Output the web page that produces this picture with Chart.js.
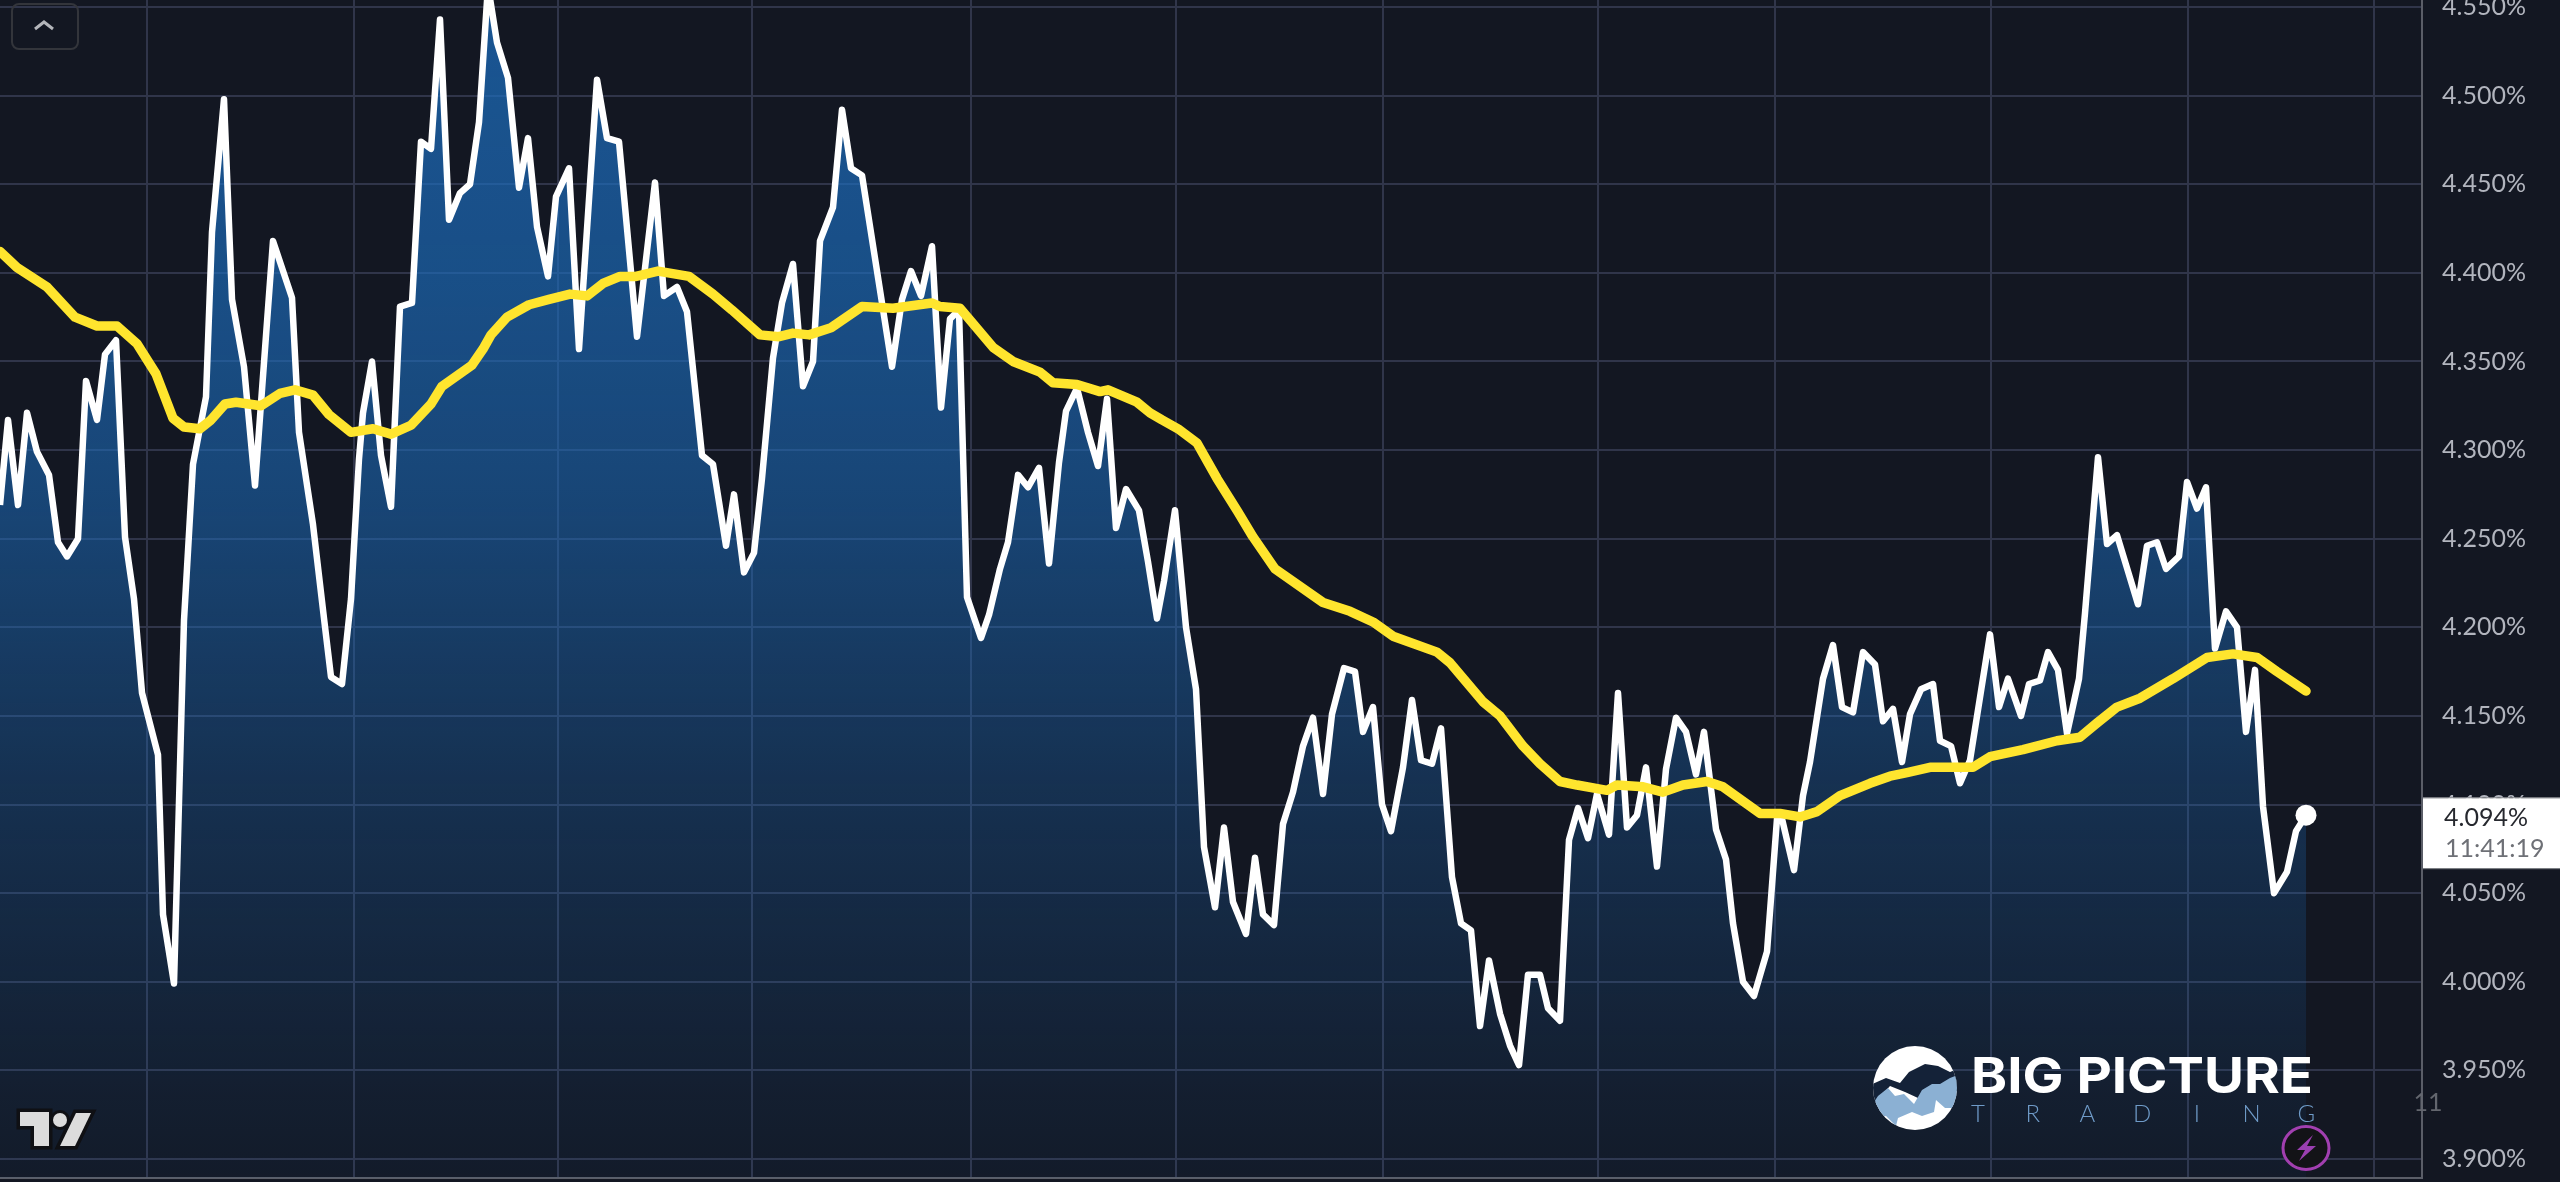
<!DOCTYPE html>
<html>
<head>
<meta charset="utf-8">
<title>Yield chart</title>
<script src="https://cdn.jsdelivr.net/npm/chart.js@4"></script>
<style>
  html, body { margin: 0; padding: 0; background: #131722; overflow: hidden; }
  canvas { display: block; }
</style>
</head>
<body>
<canvas id="yieldChart" width="2560" height="1182"></canvas>
<script>
// time axis is in hours from the left edge of the window
const lineHours = [
  0, 0.8, 1.8, 2.7, 3.7, 4.9, 5.8, 6.7, 7.8, 8.6,
  9.7, 10.5, 11.6, 12.5, 13.4, 14.2, 15.8, 16.3, 17.4, 18.4,
  19.3, 20.6, 21.2, 22.4, 23.2, 24.4, 25.5, 26.2, 27.3, 29.2,
  29.9, 31.3, 32.4, 33.1, 34.2, 35.1, 35.9, 36.3, 37.2, 38.1,
  39.1, 40.0, 41.2, 42.1, 43.1, 44.0, 44.9, 46.0, 47.0, 47.9,
  48.8, 49.7, 50.8, 51.9, 52.8, 53.7, 54.8, 55.6, 56.9, 57.9,
  59.7, 60.7, 61.9, 63.7, 65.5, 66.4, 67.7, 68.7, 70.2, 71.3,
  72.6, 73.4, 74.4, 75.4, 76.2, 77.3, 78.2, 79.3, 80.3, 81.3,
  82.0, 83.3, 84.2, 85.1, 86.2, 89.2, 90.2, 91.1, 92.1, 93.2,
  94.1, 95.0, 95.9, 96.7, 98.1, 98.9, 100.0, 100.8, 101.8, 102.8,
  103.9, 104.9, 105.9, 106.6, 107.7, 108.8, 109.8, 110.7, 111.6, 112.6,
  113.9, 114.8, 115.7, 116.4, 117.5, 118.6, 119.6, 120.4, 121.5, 122.4,
  123.3, 124.6, 125.5, 126.3, 127.4, 128.3, 129.3, 130.3, 131.3, 132.3,
  133.2, 134.4, 135.5, 136.3, 137.3, 138.2, 139.1, 140.3, 141.2, 142.1,
  143.2, 144.1, 145.2, 146.1, 147.1, 148.0, 148.9, 150.0, 151.0, 151.9,
  152.8, 154.0, 154.8, 156.0, 156.9, 157.8, 158.8, 159.7, 160.9, 161.8,
  162.7, 163.7, 164.6, 165.7, 166.6, 167.6, 168.6, 169.6, 170.4, 171.6,
  172.6, 173.3, 174.3, 175.4, 176.7, 177.7, 178.2, 179.4, 180.3, 181.0,
  182.3, 183.3, 184.2, 185.3, 186.3, 187.5, 188.3, 189.3, 190.2, 191.0,
  192.1, 193.3, 194.0, 195.1, 196.0, 197.0, 199.0, 199.9, 200.8, 202.1,
  202.9, 204.0, 204.8, 205.8, 206.7, 207.9, 208.5, 209.8, 210.7, 211.7,
  213.8, 214.7, 215.7, 216.6, 217.9, 218.7, 219.7, 220.6, 221.5, 222.6,
  223.7, 224.6, 225.5, 226.3, 227.4, 228.7, 229.6, 230.6
];
const lineYields = [
  4.269, 4.317, 4.269, 4.321, 4.299, 4.286, 4.248, 4.240, 4.250, 4.339,
  4.317, 4.354, 4.362, 4.251, 4.216, 4.163, 4.128, 4.038, 3.999, 4.204,
  4.292, 4.330, 4.423, 4.498, 4.385, 4.347, 4.280, 4.334, 4.418, 4.386,
  4.310, 4.258, 4.205, 4.172, 4.168, 4.216, 4.295, 4.321, 4.350, 4.297,
  4.268, 4.381, 4.383, 4.474, 4.470, 4.543, 4.430, 4.445, 4.450, 4.485,
  4.562, 4.530, 4.510, 4.448, 4.476, 4.426, 4.398, 4.443, 4.459, 4.357,
  4.509, 4.476, 4.474, 4.364, 4.451, 4.387, 4.392, 4.378, 4.297, 4.292,
  4.246, 4.275, 4.231, 4.242, 4.284, 4.352, 4.383, 4.405, 4.336, 4.350,
  4.418, 4.437, 4.492, 4.459, 4.455, 4.347, 4.385, 4.401, 4.387, 4.415,
  4.324, 4.374, 4.379, 4.217, 4.194, 4.207, 4.233, 4.248, 4.286, 4.279,
  4.290, 4.236, 4.293, 4.322, 4.335, 4.310, 4.291, 4.329, 4.256, 4.278,
  4.266, 4.237, 4.205, 4.226, 4.266, 4.200, 4.165, 4.076, 4.042, 4.087,
  4.045, 4.027, 4.070, 4.038, 4.032, 4.089, 4.107, 4.133, 4.149, 4.106,
  4.151, 4.177, 4.175, 4.141, 4.155, 4.100, 4.085, 4.121, 4.159, 4.125,
  4.123, 4.143, 4.059, 4.033, 4.029, 3.975, 4.012, 3.982, 3.964, 3.953,
  4.004, 4.004, 3.985, 3.978, 4.080, 4.098, 4.081, 4.106, 4.083, 4.163,
  4.087, 4.094, 4.121, 4.065, 4.120, 4.149, 4.141, 4.117, 4.141, 4.086,
  4.069, 4.033, 4.000, 3.992, 4.017, 4.092, 4.092, 4.063, 4.105, 4.124,
  4.171, 4.190, 4.155, 4.152, 4.186, 4.179, 4.147, 4.154, 4.124, 4.151,
  4.165, 4.168, 4.136, 4.133, 4.112, 4.125, 4.196, 4.155, 4.171, 4.150,
  4.168, 4.170, 4.186, 4.176, 4.140, 4.171, 4.208, 4.296, 4.247, 4.252,
  4.213, 4.246, 4.248, 4.233, 4.240, 4.282, 4.267, 4.279, 4.188, 4.209,
  4.200, 4.141, 4.176, 4.099, 4.050, 4.062, 4.085, 4.094
];

const avgHours = [
  0, 1.7, 4.7, 7.5, 9.7, 11.7, 13.7, 15.6, 17.3, 18.4,
  20.0, 21.1, 22.5, 23.6, 26.1, 28.0, 29.5, 31.3, 32.9, 35.1,
  37.3, 39.1, 41.1, 43.1, 44.2, 47.2, 48.3, 49.1, 50.7, 52.9,
  54.9, 57.0, 58.7, 60.3, 62.0, 63.6, 65.8, 68.9, 71.3, 73.2,
  76.0, 77.9, 79.3, 80.9, 83.1, 86.2, 89.3, 93.2, 94.0, 96.0,
  99.3, 101.3, 104.0, 105.3, 107.7, 110.0, 110.8, 113.7, 115.0, 116.2,
  117.8, 119.7, 121.7, 123.8, 125.3, 127.5, 132.3, 135.0, 137.3, 139.3,
  143.7, 145.0, 148.3, 150.0, 152.3, 154.0, 156.0, 157.7, 160.7, 161.7,
  164.3, 166.3, 168.3, 170.7, 172.3, 176.0, 178.0, 180.0, 181.7, 184.0,
  187.0, 189.0, 190.7, 193.0, 196.0, 197.3, 199.0, 202.3, 205.7, 208.0,
  209.7, 211.7, 214.0, 217.3, 220.7, 223.3, 225.7, 227.7, 230.6
];
const avgYields = [
  4.412, 4.403, 4.392, 4.375, 4.370, 4.370, 4.360, 4.343, 4.318, 4.313,
  4.312, 4.317, 4.326, 4.327, 4.325, 4.332, 4.334, 4.331, 4.320, 4.310,
  4.312, 4.309, 4.314, 4.326, 4.336, 4.348, 4.357, 4.365, 4.375, 4.382,
  4.385, 4.388, 4.387, 4.394, 4.398, 4.398, 4.401, 4.398, 4.388, 4.379,
  4.365, 4.364, 4.366, 4.365, 4.369, 4.381, 4.380, 4.383, 4.381, 4.380,
  4.358, 4.350, 4.344, 4.338, 4.337, 4.333, 4.334, 4.327, 4.321, 4.317,
  4.312, 4.304, 4.284, 4.265, 4.251, 4.233, 4.214, 4.209, 4.203, 4.195,
  4.186, 4.180, 4.158, 4.150, 4.133, 4.123, 4.113, 4.111, 4.108, 4.111,
  4.110, 4.107, 4.111, 4.113, 4.110, 4.095, 4.095, 4.093, 4.096, 4.105,
  4.112, 4.116, 4.118, 4.121, 4.121, 4.121, 4.127, 4.131, 4.136, 4.138,
  4.146, 4.155, 4.160, 4.171, 4.183, 4.185, 4.183, 4.175, 4.164
];

const yTickValues = [
  4.55, 4.5, 4.45, 4.4, 4.35, 4.3, 4.25, 4.2, 4.15, 4.1, 4.05, 4.0, 3.95, 3.9
];
const timeTicks = [14.7, 35.4, 55.8, 75.2, 97.1, 117.6, 138.3, 159.8, 177.5, 199.1, 218.8, 237.4];

const lastYieldLabel = "4.094%";
const countdownLabel = "11:41:19";
const strayTimeLabel = "11";

const gridColor = "#30354a";
const axisColor = "#5b5e68";
const labelFont = "Lato, 'Open Sans', sans-serif";

const polygon = (ctx, pts) => {
  ctx.beginPath();
  pts.forEach((p, i) => (i ? ctx.lineTo(p[0], p[1]) : ctx.moveTo(p[0], p[1])));
  ctx.closePath();
};

const drawCollapseButton = (ctx) => {
  ctx.strokeStyle = "#33353b";
  ctx.lineWidth = 2;
  ctx.beginPath();
  ctx.roundRect(12, 4, 66, 45, 7);
  ctx.stroke();
  ctx.strokeStyle = "#b4b6bb";
  ctx.lineWidth = 3;
  ctx.beginPath();
  ctx.moveTo(35, 29);
  ctx.lineTo(44, 22);
  ctx.lineTo(53, 29);
  ctx.stroke();
};

const drawTvLogo = (ctx) => {
  const shapes = [
    [[20, 1112], [49, 1112], [49, 1146], [34, 1146], [34, 1126], [20, 1126]],
    [[76, 1113], [91, 1113], [75, 1146], [60, 1146]],
  ];
  ctx.lineJoin = "miter";
  shapes.forEach((s) => {
    polygon(ctx, s);
    ctx.strokeStyle = "#0f1014";
    ctx.lineWidth = 7;
    ctx.stroke();
  });
  ctx.fillStyle = "#0f1014";
  ctx.beginPath();
  ctx.arc(60, 1120, 10, 0, Math.PI * 2);
  ctx.fill();
  shapes.forEach((s) => {
    polygon(ctx, s);
    ctx.fillStyle = "#dcdcdc";
    ctx.fill();
  });
  ctx.beginPath();
  ctx.arc(60, 1120, 7, 0, Math.PI * 2);
  ctx.fill();
};

const drawBrandLogo = (ctx) => {
  ctx.save();
  ctx.beginPath();
  ctx.arc(1915, 1088, 42, 0, Math.PI * 2);
  ctx.fillStyle = "#ffffff";
  ctx.fill();
  ctx.clip();
  // dark valley band under the white dome
  polygon(ctx, [
    [1870, 1085], [1886, 1078], [1900, 1083], [1909, 1072], [1925, 1064], [1938, 1066], [1950, 1072],
    [1960, 1068], [1960, 1092], [1935, 1085], [1918, 1098], [1905, 1092], [1890, 1086], [1872, 1106],
  ]);
  ctx.fillStyle = "#142238";
  ctx.fill();
  // blue ridges
  polygon(ctx, [
    [1870, 1108], [1878, 1096], [1888, 1088], [1895, 1096], [1904, 1094], [1914, 1104], [1922, 1090],
    [1932, 1084], [1940, 1084], [1950, 1078], [1960, 1074], [1960, 1108], [1945, 1108], [1936, 1100],
    [1934, 1112], [1922, 1116], [1912, 1112], [1898, 1118], [1896, 1126], [1886, 1116], [1870, 1118],
  ]);
  ctx.fillStyle = "#8bb0d3";
  ctx.fill();
  ctx.restore();

  ctx.textAlign = "left";
  ctx.textBaseline = "alphabetic";
  ctx.fillStyle = "#ffffff";
  ctx.font = "bold 50px Inter, Lato, sans-serif";
  // stretch the wordmark to the logo's width
  const wordWidth = ctx.measureText("BIG PICTURE").width;
  ctx.save();
  ctx.translate(1971, 1093);
  ctx.scale(342 / wordWidth, 1);
  ctx.fillText("BIG PICTURE", 0, 0);
  ctx.restore();

  ctx.fillStyle = "#6f9bc8";
  ctx.font = "300 24px Lato, sans-serif";
  ctx.textAlign = "center";
  "TRADING".split("").forEach((letter, i) => {
    ctx.fillText(letter, 1978 + i * 54.7, 1122);
  });
};

const drawBoltBadge = (ctx) => {
  ctx.beginPath();
  ctx.ellipse(2306, 1148, 23, 21.5, 0, 0, Math.PI * 2);
  ctx.fillStyle = "#131317";
  ctx.fill();
  ctx.strokeStyle = "#a23fb0";
  ctx.lineWidth = 3;
  ctx.stroke();
  polygon(ctx, [
    [2313, 1135], [2297, 1150], [2305, 1150], [2299, 1161], [2316, 1146], [2307, 1146],
  ]);
  ctx.fillStyle = "#9a3fb0";
  ctx.fill();
};

const overlayPlugin = {
  id: "overlay",
  afterDraw(chart) {
    const ctx = chart.ctx;
    const yScale = chart.scales.y;
    const xScale = chart.scales.x;
    const lastY = yScale.getPixelForValue(lineYields[lineYields.length - 1]);

    ctx.save();
    drawCollapseButton(ctx);
    drawTvLogo(ctx);
    drawBrandLogo(ctx);
    drawBoltBadge(ctx);

    // last value tag on the price axis
    const left = xScale.right + 1;
    ctx.fillStyle = "#ffffff";
    ctx.fillRect(left, lastY - 17, 2560 - left, 70);
    ctx.fillStyle = "#8b8d92";
    ctx.fillRect(left, lastY - 18, 2560 - left, 1);
    ctx.fillRect(left, lastY + 53, 2560 - left, 1);
    ctx.textAlign = "left";
    ctx.textBaseline = "middle";
    ctx.font = "25px " + labelFont;
    ctx.fillStyle = "#26282e";
    ctx.fillText(lastYieldLabel, 2444, lastY + 3);
    ctx.fillStyle = "#6e7076";
    ctx.fillText(countdownLabel, 2445, lastY + 34);

    ctx.fillStyle = "#63666e";
    ctx.textAlign = "center";
    ctx.fillText(strayTimeLabel, 2428, 1103);
    ctx.restore();
  },
};

const fillGradient = (context) => {
  const { ctx, chartArea } = context.chart;
  if (!chartArea) return "rgba(29,110,191,0.5)";
  const g = ctx.createLinearGradient(0, chartArea.top, 0, chartArea.bottom);
  g.addColorStop(0, "rgba(29,110,191,0.72)");
  g.addColorStop(0.25, "rgba(29,110,191,0.64)");
  g.addColorStop(0.42, "rgba(29,110,191,0.54)");
  g.addColorStop(0.68, "rgba(29,110,191,0.29)");
  g.addColorStop(0.93, "rgba(29,110,191,0.09)");
  g.addColorStop(1, "rgba(29,110,191,0.05)");
  return g;
};

const toPoints = (hours, values) => hours.map((h, i) => ({ x: h, y: values[i] }));

new Chart(document.getElementById("yieldChart").getContext("2d"), {
  type: "line",
  data: {
    datasets: [
      {
        label: "Moving average",
        data: toPoints(avgHours, avgYields),
        borderColor: "#ffe52e",
        borderWidth: 9.5,
        borderJoinStyle: "round",
        borderCapStyle: "round",
        pointRadius: 0,
        tension: 0,
        fill: false,
        order: 0,
      },
      {
        label: "Yield",
        data: toPoints(lineHours, lineYields),
        borderColor: "#ffffff",
        borderWidth: 6.5,
        borderJoinStyle: "round",
        pointRadius: (c) => (c.dataIndex === lineHours.length - 1 ? 10.5 : 0),
        pointBackgroundColor: "#ffffff",
        pointBorderWidth: 0,
        tension: 0,
        fill: "start",
        backgroundColor: fillGradient,
        order: 1,
      },
    ],
  },
  options: {
    responsive: false,
    devicePixelRatio: 1,
    animation: false,
    parsing: { xAxisKey: "x", yAxisKey: "y" },
    layout: { padding: 0, autoPadding: false },
    plugins: { legend: { display: false }, tooltip: { enabled: false }, title: { display: false } },
    scales: {
      x: {
        type: "linear",
        min: 0,
        max: 242.2,
        afterBuildTicks: (scale) => {
          scale.ticks = timeTicks.map((v) => ({ value: v }));
        },
        afterFit: (scale) => {
          scale.height = 4;
          scale.paddingLeft = 0;
          scale.paddingRight = 0;
        },
        ticks: { display: false },
        grid: { color: gridColor, lineWidth: 2, drawTicks: false },
        border: { color: axisColor, width: 2 },
      },
      y: {
        type: "linear",
        position: "right",
        min: 3.88928,
        max: 4.55395,
        afterBuildTicks: (scale) => {
          scale.ticks = yTickValues.map((v) => ({ value: v }));
        },
        afterFit: (scale) => {
          scale.width = 138;
          scale.paddingTop = 0;
          scale.paddingBottom = 0;
        },
        ticks: {
          autoSkip: false,
          padding: 20,
          color: "#b2b5be",
          font: { family: labelFont, size: 25 },
          callback: (v) => v.toFixed(3) + "%",
        },
        grid: { color: gridColor, lineWidth: 2, drawTicks: false },
        border: { color: axisColor, width: 2 },
      },
    },
  },
  plugins: [overlayPlugin],
});
</script>
</body>
</html>
